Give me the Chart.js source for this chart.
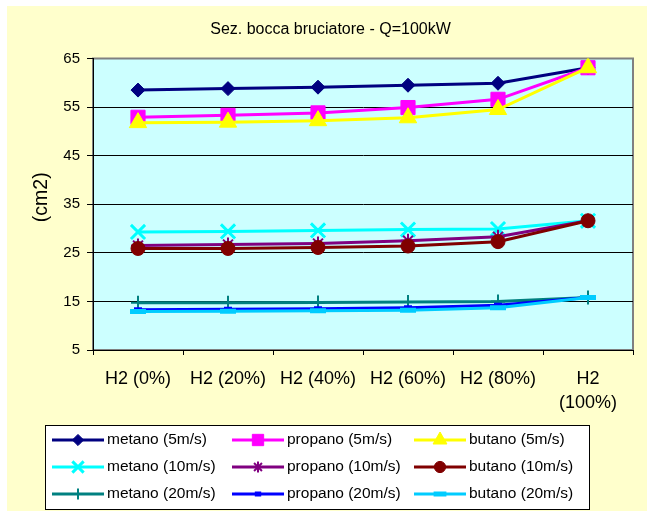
<!DOCTYPE html>
<html>
<head>
<meta charset="utf-8">
<title>Sez. bocca bruciatore - Q=100kW</title>
<script src="https://cdn.jsdelivr.net/npm/chart.js@4/dist/chart.umd.min.js"></script>
<style>
  html, body { margin: 0; padding: 0; background: #ffffff; }
  canvas { display: block; }
</style>
</head>
<body>
<canvas id="chart" width="647" height="511"></canvas>
<script>
// Hydrogen share in the fuel blend
const categories = ['H2 (0%)', 'H2 (20%)', 'H2 (40%)', 'H2 (60%)', 'H2 (80%)', ['H2', '(100%)']];

// Value axis tick labels (cm2)
const yTickLabels = [5, 15, 25, 35, 45, 55, 65];
const yAxisTitle = '(cm2)';

// Burner mouth section (cm2) per gas and outlet velocity
const metano5   = [58.5, 58.8, 59.1, 59.5, 59.9, 63.1];
const propano5  = [52.9, 53.3, 53.8, 54.9, 56.6, 63.1];
const butano5   = [51.8, 51.9, 52.2, 52.8, 54.5, 63.1];
const metano10  = [29.3, 29.4, 29.6, 29.8, 29.9, 31.6];
const propano10 = [26.5, 26.7, 26.9, 27.5, 28.3, 31.6];
const butano10  = [25.9, 25.9, 26.1, 26.4, 27.3, 31.6];
const metano20  = [14.7, 14.7, 14.8, 14.9, 15.0, 15.8];
const propano20 = [13.3, 13.4, 13.5, 13.7, 14.2, 15.8];
const butano20  = [12.9, 13.0, 13.1, 13.2, 13.7, 15.8];

const seriesNames = [
  'metano (5m/s)', 'propano (5m/s)', 'butano (5m/s)',
  'metano (10m/s)', 'propano (10m/s)', 'butano (10m/s)',
  'metano (20m/s)', 'propano (20m/s)', 'butano (20m/s)'
];
const seriesValues = [metano5, propano5, butano5, metano10, propano10, butano10, metano20, propano20, butano20];

// Line colour and marker for each series
const seriesStyles = [
  { color: '#000080', point: 'rectRot',  radius: 7,  pw: 1 },
  { color: '#FF00FF', point: 'rect',     radius: 10, pw: 1 },
  { color: '#FFFF00', point: 'triangle', radius: 10, pw: 1 },
  { color: '#00FFFF', point: 'crossRot', radius: 10, pw: 3 },
  { color: '#800080', point: 'star',     radius: 7,  pw: 2 },
  { color: '#800000', point: 'circle',   radius: 7,  pw: 1 },
  { color: '#008080', point: 'cross',    radius: 7,  pw: 2 },
  { color: '#0000FF', point: 'line',     radius: 4,  pw: 5 },
  { color: '#00CCFF', point: 'line',     radius: 8,  pw: 5 }
];

const FONT = '"Liberation Sans", Arial, sans-serif';

const datasets = seriesNames.map((name, i) => {
  const s = seriesStyles[i];
  return {
    label: name,
    data: seriesValues[i],
    borderColor: s.color,
    backgroundColor: s.color,
    borderWidth: 3,
    tension: 0,
    pointStyle: s.point,
    pointRadius: s.radius,
    pointHoverRadius: s.radius,
    pointBorderWidth: s.pw,
    pointBackgroundColor: s.color,
    pointBorderColor: s.color,
    order: seriesNames.length - 1 - i   // later series drawn on top
  };
});

// Page background, plot area fill and plot frame
const backdrop = {
  id: 'backdrop',
  beforeDraw(chart) {
    const { ctx, chartArea: a } = chart;
    ctx.save();
    ctx.fillStyle = '#FFFFFF';
    ctx.fillRect(0, 0, chart.width, chart.height);
    ctx.fillStyle = '#FFFFCC';
    ctx.fillRect(7, 6, chart.width - 7, chart.height - 6);
    ctx.fillStyle = '#CCFFFF';
    ctx.fillRect(a.left, a.top, a.right - a.left, a.bottom - a.top);
    ctx.strokeStyle = '#808080';
    ctx.lineWidth = 2;
    ctx.strokeRect(a.left, a.top, a.right - a.left, a.bottom - a.top);
    ctx.restore();
  },
  afterDraw(chart) {
    // vertical axis caption, set a little above the plot's mid-height
    const { ctx, chartArea: a } = chart;
    ctx.save();
    ctx.translate(42, (a.top + a.bottom) / 2 - 7);
    ctx.rotate(-Math.PI / 2);
    ctx.fillStyle = '#000000';
    ctx.font = '19.5px ' + FONT;
    ctx.textAlign = 'center';
    ctx.textBaseline = 'middle';
    ctx.fillText(yAxisTitle, 0, 0);
    ctx.restore();
  }
};

// Three-column legend box under the axis
const gridLegend = {
  id: 'gridLegend',
  afterDraw(chart) {
    const ctx = chart.ctx;
    const colX = [52, 232, 414];
    const rowY = [440, 467, 494];
    ctx.save();
    ctx.fillStyle = '#FFFFFF';
    ctx.fillRect(45.5, 425.5, 544, 84);
    ctx.strokeStyle = '#000000';
    ctx.lineWidth = 1;
    ctx.strokeRect(45.5, 425.5, 544, 84);
    chart.data.datasets.forEach((ds, i) => {
      const x0 = colX[i % 3];
      const y = rowY[Math.floor(i / 3)];
      ctx.strokeStyle = ds.borderColor;
      ctx.lineWidth = 3;
      ctx.beginPath();
      ctx.moveTo(x0, y);
      ctx.lineTo(x0 + 52, y);
      ctx.stroke();
      ctx.fillStyle = ds.pointBackgroundColor;
      ctx.strokeStyle = ds.pointBorderColor;
      ctx.lineWidth = ds.pointBorderWidth;
      Chart.helpers.drawPoint(ctx, {
        pointStyle: ds.pointStyle,
        radius: ds.pointRadius * 0.8,
        rotation: 0,
        borderWidth: ds.pointBorderWidth
      }, x0 + 26, y);
      ctx.fillStyle = '#000000';
      ctx.font = '15.5px ' + FONT;
      ctx.textBaseline = 'middle';
      ctx.textAlign = 'left';
      ctx.fillText(ds.label, x0 + 55, y);
    });
    ctx.restore();
  }
};

new Chart(document.getElementById('chart'), {
  type: 'line',
  data: { labels: categories, datasets },
  plugins: [backdrop, gridLegend],
  options: {
    responsive: false,
    animation: false,
    events: [],
    devicePixelRatio: 1,
    layout: { padding: { left: 28, right: 14, top: 0, bottom: 91 } },
    plugins: {
      legend: { display: false },
      tooltip: { enabled: false },
      title: {
        display: true,
        text: 'Sez. bocca bruciatore - Q=100kW',
        color: '#000000',
        font: { family: FONT, size: 16, weight: 'normal', lineHeight: 1.2 },
        padding: { top: 20.4, bottom: 18.9 }
      }
    },
    scales: {
      x: {
        type: 'category',
        offset: true,
        grid: {
          offset: true,
          drawOnChartArea: false,
          drawTicks: true,
          tickLength: 5,
          tickColor: '#000000'
        },
        border: { display: true, color: '#000000', width: 1 },
        ticks: {
          color: '#000000',
          font: { family: FONT, size: 18, lineHeight: 1.333 },
          padding: 12,
          maxRotation: 0,
          minRotation: 0,
          autoSkip: false
        },
        afterFit(scale) { scale.height = 70; }
      },
      y: {
        min: yTickLabels[0],
        max: yTickLabels[yTickLabels.length - 1],
        grid: {
          color: ctx => (ctx.tick && ctx.tick.value === yTickLabels[yTickLabels.length - 1]) ? 'rgba(0,0,0,0)' : '#000000',
          lineWidth: 1,
          drawTicks: true,
          tickLength: 6,
          tickColor: '#000000'
        },
        border: { display: true, color: '#000000', width: 1 },
        ticks: {
          stepSize: yTickLabels[1] - yTickLabels[0],
          color: '#000000',
          font: { family: FONT, size: 15 },
          padding: 7,
          callback: (v) => yTickLabels.includes(v) ? String(v) : ''
        },
        afterFit(scale) { scale.width = 65; }
      }
    }
  }
});
</script>
</body>
</html>
